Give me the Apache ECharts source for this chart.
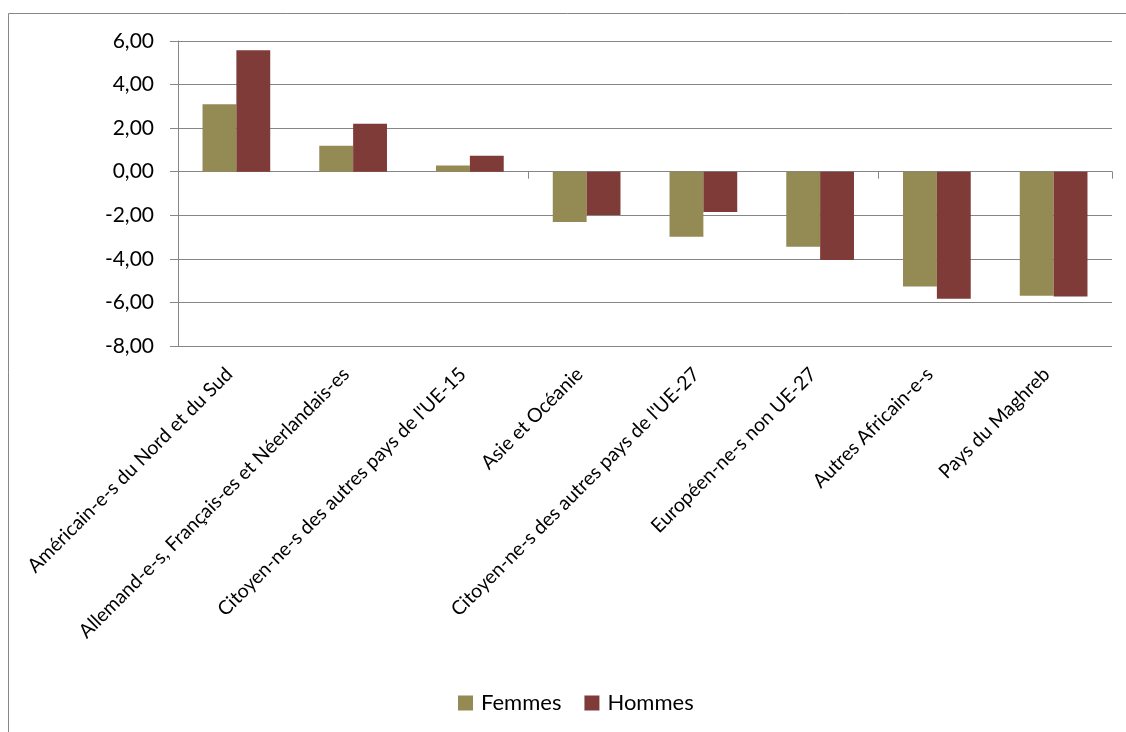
<!DOCTYPE html>
<html>
<head>
<meta charset="utf-8">
<title>Femmes / Hommes</title>
<script src="https://cdn.jsdelivr.net/npm/echarts@6/dist/echarts.min.js"></script>
<style>
  html, body { margin: 0; padding: 0; background: #fff; }
  #chart { width: 1126px; height: 732px; }
</style>
</head>
<body>
<div id="chart"></div>
<script>
// Data
const categories = [
  'Américain-e-s du Nord et du Sud',
  'Allemand-e-s, Français-es et Néerlandais-es',
  "Citoyen-ne-s des autres pays de l'UE-15",
  'Asie et Océanie',
  "Citoyen-ne-s des autres pays de l'UE-27",
  'Européen-ne-s non UE-27',
  'Autres Africain-e-s',
  'Pays du Maghreb',
]
const femmes = [3.1, 1.19, 0.29, -2.31, -2.98, -3.44, -5.27, -5.69]
const hommes = [5.58, 2.2, 0.73, -1.99, -1.85, -4.05, -5.83, -5.73]
const seriesNames = ['Femmes', 'Hommes']

const FONT = 'Lato, "Open Sans", sans-serif'
const GREY = '#868686'

const chart = echarts.init(document.getElementById('chart'), null, { renderer: 'canvas' })

const option = {
  backgroundColor: '#fff',
  animation: false,
  textStyle: { fontFamily: FONT, color: '#000' },
  // chart frame: only left and top edges are visible in the reference
  graphic: [
    { type: 'line', shape: { x1: 8.5, y1: 13.5, x2: 1126, y2: 13.5 }, style: { stroke: GREY, lineWidth: 1 } },
    { type: 'line', shape: { x1: 8.5, y1: 13.5, x2: 8.5, y2: 732 }, style: { stroke: GREY, lineWidth: 1 } },
  ],
  grid: { left: 178, right: 14, top: 41, bottom: 386, containLabel: false },
  legend: {
    data: seriesNames,
    bottom: 18,
    left: 458,
    padding: 0,
    icon: 'rect',
    itemWidth: 15,
    itemHeight: 15,
    itemGap: 23,
    textStyle: { fontFamily: FONT, fontSize: 22, color: '#000', padding: [0, 0, 0, 3] },
  },
  xAxis: [
    {
      // labels at the bottom of the plot
      type: 'category',
      data: categories,
      position: 'bottom',
      axisLine: { show: false, onZero: false },
      axisTick: { show: false },
      axisLabel: {
        rotate: 45,
        interval: 0,
        margin: 18,
        padding: [0, 10, 0, 0],
        fontFamily: FONT,
        fontSize: 19.5,
        color: '#000',
      },
    },
    {
      // axis line drawn at zero
      type: 'category',
      data: categories,
      position: 'bottom',
      axisLine: { show: true, onZero: true, lineStyle: { color: GREY, width: 1 } },
      axisTick: { show: true, length: 7, inside: false, lineStyle: { color: GREY } },
      axisLabel: { show: false },
    },
  ],
  yAxis: {
    type: 'value',
    min: -8,
    max: 6,
    interval: 2,
    axisLine: { show: true, lineStyle: { color: GREY, width: 1 } },
    axisTick: { show: true, length: 8, lineStyle: { color: GREY } },
    splitLine: { show: true, lineStyle: { color: GREY, width: 1 } },
    axisLabel: {
      margin: 24,
      fontFamily: FONT,
      fontSize: 21,
      color: '#000',
      formatter: v => v.toFixed(2).replace('.', ','),
    },
  },
  series: [
    {
      name: seriesNames[0],
      type: 'bar',
      data: femmes,
      barGap: '0%',
      barCategoryGap: '42%',
      itemStyle: { color: '#948a54' },
    },
    {
      name: seriesNames[1],
      type: 'bar',
      data: hommes,
      barGap: '0%',
      barCategoryGap: '42%',
      itemStyle: { color: '#7f3b38' },
    },
  ],
}

chart.setOption(option)
</script>
</body>
</html>
